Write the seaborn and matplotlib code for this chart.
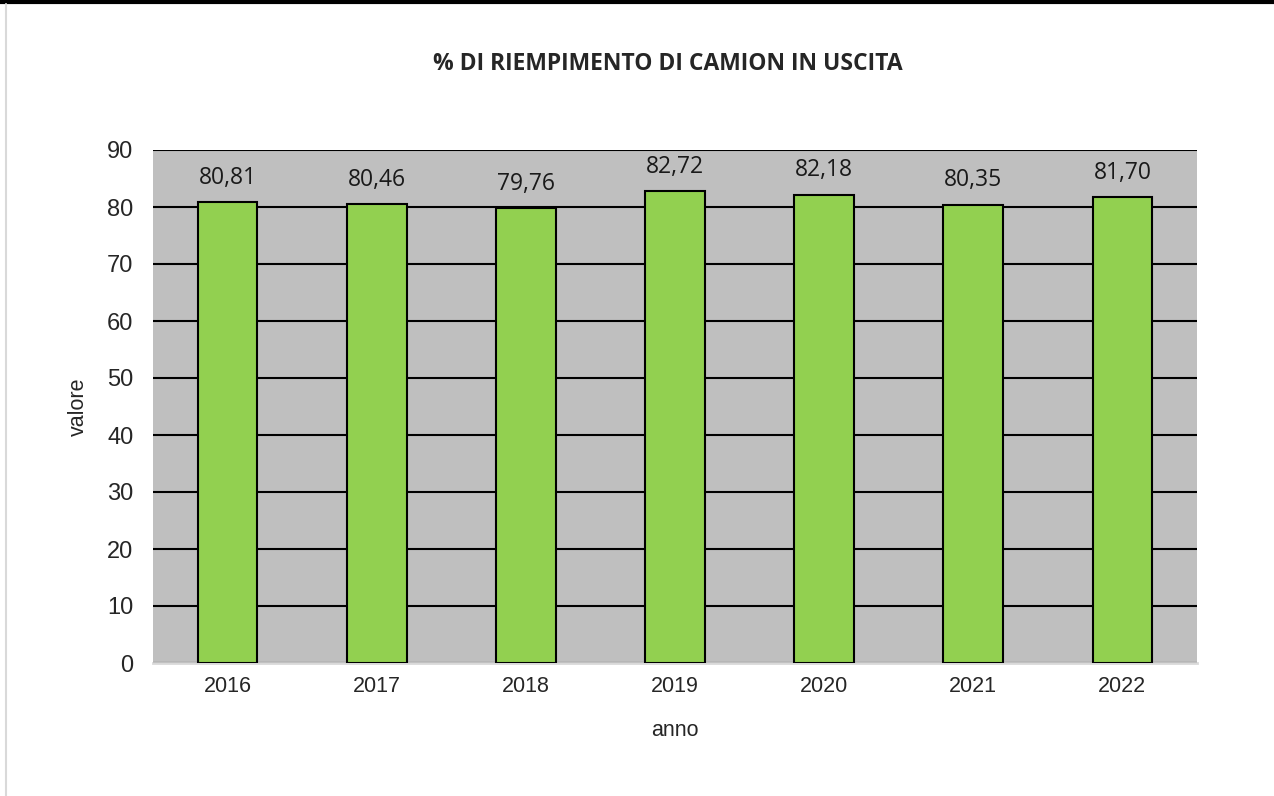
import matplotlib
matplotlib.use("Agg")
import matplotlib.pyplot as plt
import seaborn as sns
import pandas as pd

# dati
anni = ["2016", "2017", "2018", "2019", "2020", "2021", "2022"]
valori = [80.81, 80.46, 79.76, 82.72, 82.18, 80.35, 81.70]

df = pd.DataFrame({"anno": anni, "valore": valori})

sns.set_style("white")
plt.rcParams["font.family"] = ["Liberation Sans", "DejaVu Sans"]

fig = plt.figure(figsize=(12.74, 7.96), dpi=100)
ax = fig.add_axes([153 / 1274, 1 - 663 / 796, (1197 - 153) / 1274, (663 - 150) / 796])
ax.set_facecolor("#BFBFBF")

sns.barplot(data=df, x="anno", y="valore", color="#92D050", width=0.4,
            edgecolor="black", linewidth=1.5, saturation=1, ax=ax, zorder=3)

ax.set_ylim(0, 90)
ax.set_yticks(range(0, 91, 10))
ax.yaxis.grid(True, color="black", linewidth=1.5, zorder=1)
ax.set_axisbelow(True)
for s in ["top", "right", "left"]:
    ax.spines[s].set_visible(False)
ax.spines["bottom"].set_color("#D9D9D9")
ax.spines["bottom"].set_linewidth(2)
ax.tick_params(axis="y", length=0, labelsize=17, pad=14)
ax.tick_params(axis="x", length=0, labelsize=15.5, pad=9)

# etichette dei valori sopra le barre (virgola decimale)
for p, v in zip(ax.patches, valori):
    ax.text(p.get_x() + p.get_width() / 2, v + 3.3, f"{v:.2f}".replace(".", ","),
            ha="center", va="baseline", fontsize=16.5, color="#1a1a1a",
            family=["Open Sans", "DejaVu Sans"])

ax.set_xlabel("anno", fontsize=15.5, labelpad=17)
ax.set_ylabel("valore", fontsize=15.5, labelpad=13)

fig.text(668 / 1274, 1 - 64 / 796, "% DI RIEMPIMENTO DI CAMION IN USCITA", ha="center",
         va="center", fontsize=16.5, fontweight="bold", family=["Open Sans", "DejaVu Sans"])

# cornice: linea nera in alto e bordo grigio a sinistra
fig.add_artist(plt.Line2D([0, 1], [1 - 1.5 / 796, 1 - 1.5 / 796], color="black", linewidth=3))
fig.add_artist(plt.Line2D([6 / 1274, 6 / 1274], [0, 1 - 4 / 796], color="#D9D9D9", linewidth=1.5))

fig.savefig("out.png", dpi=100)
